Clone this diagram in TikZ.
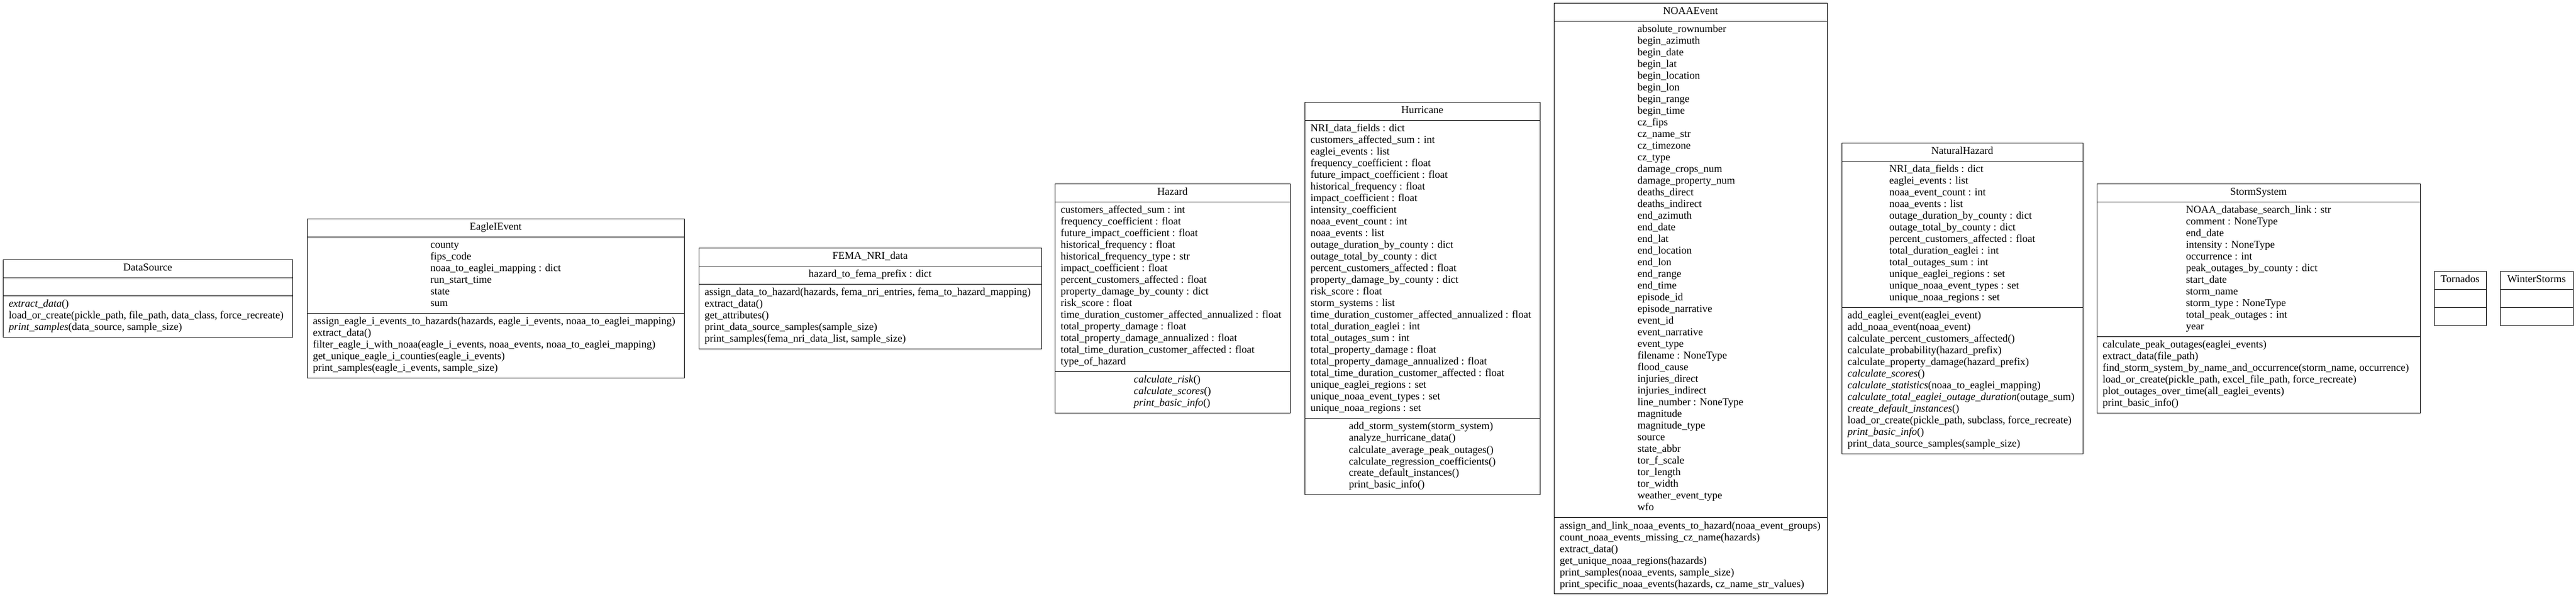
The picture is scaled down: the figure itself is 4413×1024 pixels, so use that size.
\documentclass[tikz,border=0pt]{standalone}
\usepackage{fontspec}
\setmainfont{Liberation Serif}
\usetikzlibrary{shapes.multipart}

\newcommand{\members}[1]{\begin{tabular}{@{}l@{}}#1\end{tabular}}

\tikzset{
  ClassStyle/.style={rectangle split, rectangle split parts=3,
    rectangle split part align={center,center,left},
    draw, line width=1pt, inner xsep=10pt, inner ysep=5pt,
    font=\fontsize{18}{20}\selectfont},
  WideAttrs/.style={rectangle split part align={center,left,center}}
}

\begin{document}
\begin{tikzpicture}[x=1pt,y=1pt]
  \useasboundingbox (0,-512) rectangle (4413,512);
  %% DataSource, EagleIEvent, FEMA_NRI_data, Hazard, Hurricane
  \node[ClassStyle, minimum width=496pt] (DataSource) at (253,0)
    {\strut DataSource
     \nodepart{two}\strut
     \nodepart{three}\members{\textit{extract\_data}()\\
       load\_or\_create(pickle\_path, file\_path, data\_class, force\_recreate)\\
       \textit{print\_samples}(data\_source, sample\_size)}};
  \node[ClassStyle, minimum width=646pt] (EagleIEvent) at (849,0)
    {\strut EagleIEvent
     \nodepart{two}\members{county\\ fips\_code\\ noaa\_to\_eaglei\_mapping : dict\\
       run\_start\_time\\ state\\ sum}
     \nodepart{three}\members{assign\_eagle\_i\_events\_to\_hazards(hazards, eagle\_i\_events, noaa\_to\_eaglei\_mapping)\\
       extract\_data()\\
       filter\_eagle\_i\_with\_noaa(eagle\_i\_events, noaa\_events, noaa\_to\_eaglei\_mapping)\\
       get\_unique\_eagle\_i\_counties(eagle\_i\_events)\\
       print\_samples(eagle\_i\_events, sample\_size)}};
  \node[ClassStyle, minimum width=587pt] (FEMA_NRI_data) at (1490.5,0)
    {\strut FEMA\_NRI\_data
     \nodepart{two}\members{hazard\_to\_fema\_prefix : dict}
     \nodepart{three}\members{assign\_data\_to\_hazard(hazards, fema\_nri\_entries, fema\_to\_hazard\_mapping)\\
       extract\_data()\\ get\_attributes()\\
       print\_data\_source\_samples(sample\_size)\\
       print\_samples(fema\_nri\_data\_list, sample\_size)}};
  \node[ClassStyle, WideAttrs, minimum width=403pt] (Hazard) at (2008.5,0)
    {\strut Hazard
     \nodepart{two}\members{customers\_affected\_sum : int\\ frequency\_coefficient : float\\
       future\_impact\_coefficient : float\\ historical\_frequency : float\\
       historical\_frequency\_type : str\\ impact\_coefficient : float\\
       percent\_customers\_affected : float\\ property\_damage\_by\_county : dict\\
       risk\_score : float\\ time\_duration\_customer\_affected\_annualized : float\\
       total\_property\_damage : float\\ total\_property\_damage\_annualized : float\\
       total\_time\_duration\_customer\_affected : float\\ type\_of\_hazard}
     \nodepart{three}\members{\textit{calculate\_risk}()\\ \textit{calculate\_scores}()\\
       \textit{print\_basic\_info}()}};
  \node[ClassStyle, WideAttrs, minimum width=403pt] (Hurricane) at (2436.5,0)
    {\strut Hurricane
     \nodepart{two}\members{NRI\_data\_fields : dict\\ customers\_affected\_sum : int\\
       eaglei\_events : list\\ frequency\_coefficient : float\\
       future\_impact\_coefficient : float\\ historical\_frequency : float\\
       impact\_coefficient : float\\ intensity\_coefficient\\
       noaa\_event\_count : int\\ noaa\_events : list\\
       outage\_duration\_by\_county : dict\\ outage\_total\_by\_county : dict\\
       percent\_customers\_affected : float\\ property\_damage\_by\_county : dict\\
       risk\_score : float\\ storm\_systems : list\\
       time\_duration\_customer\_affected\_annualized : float\\
       total\_duration\_eaglei : int\\ total\_outages\_sum : int\\
       total\_property\_damage : float\\ total\_property\_damage\_annualized : float\\
       total\_time\_duration\_customer\_affected : float\\ unique\_eaglei\_regions : set\\
       unique\_noaa\_event\_types : set\\ unique\_noaa\_regions : set}
     \nodepart{three}\members{add\_storm\_system(storm\_system)\\ analyze\_hurricane\_data()\\
       calculate\_average\_peak\_outages()\\ calculate\_regression\_coefficients()\\
       create\_default\_instances()\\ print\_basic\_info()}};
  %% NOAAEvent, NaturalHazard, StormSystem, Tornados, WinterStorms
  \node[ClassStyle, minimum width=468pt] (NOAAEvent) at (2896,0)
    {\strut NOAAEvent
     \nodepart{two}\members{absolute\_rownumber\\ begin\_azimuth\\ begin\_date\\ begin\_lat\\
       begin\_location\\ begin\_lon\\ begin\_range\\ begin\_time\\ cz\_fips\\ cz\_name\_str\\
       cz\_timezone\\ cz\_type\\ damage\_crops\_num\\ damage\_property\_num\\ deaths\_direct\\
       deaths\_indirect\\ end\_azimuth\\ end\_date\\ end\_lat\\ end\_location\\ end\_lon\\
       end\_range\\ end\_time\\ episode\_id\\ episode\_narrative\\ event\_id\\
       event\_narrative\\ event\_type\\ filename : NoneType\\ flood\_cause\\
       injuries\_direct\\ injuries\_indirect\\ line\_number : NoneType\\ magnitude\\
       magnitude\_type\\ source\\ state\_abbr\\ tor\_f\_scale\\ tor\_length\\ tor\_width\\
       weather\_event\_type\\ wfo}
     \nodepart{three}\members{assign\_and\_link\_noaa\_events\_to\_hazard(noaa\_event\_groups)\\
       count\_noaa\_events\_missing\_cz\_name(hazards)\\ extract\_data()\\
       get\_unique\_noaa\_regions(hazards)\\ print\_samples(noaa\_events, sample\_size)\\
       print\_specific\_noaa\_events(hazards, cz\_name\_str\_values)}};
  \node[ClassStyle, minimum width=413pt] (NaturalHazard) at (3361.5,0)
    {\strut NaturalHazard
     \nodepart{two}\members{NRI\_data\_fields : dict\\ eaglei\_events : list\\
       noaa\_event\_count : int\\ noaa\_events : list\\ outage\_duration\_by\_county : dict\\
       outage\_total\_by\_county : dict\\ percent\_customers\_affected : float\\
       total\_duration\_eaglei : int\\ total\_outages\_sum : int\\
       unique\_eaglei\_regions : set\\ unique\_noaa\_event\_types : set\\
       unique\_noaa\_regions : set}
     \nodepart{three}\members{add\_eaglei\_event(eaglei\_event)\\ add\_noaa\_event(noaa\_event)\\
       calculate\_percent\_customers\_affected()\\ calculate\_probability(hazard\_prefix)\\
       calculate\_property\_damage(hazard\_prefix)\\ \textit{calculate\_scores}()\\
       \textit{calculate\_statistics}(noaa\_to\_eaglei\_mapping)\\
       \textit{calculate\_total\_eaglei\_outage\_duration}(outage\_sum)\\
       \textit{create\_default\_instances}()\\
       load\_or\_create(pickle\_path, subclass, force\_recreate)\\
       \textit{print\_basic\_info}()\\ print\_data\_source\_samples(sample\_size)}};
  \node[ClassStyle, minimum width=554pt] (StormSystem) at (3869,0)
    {\strut StormSystem
     \nodepart{two}\members{NOAA\_database\_search\_link : str\\ comment : NoneType\\
       end\_date\\ intensity : NoneType\\ occurrence : int\\
       peak\_outages\_by\_county : dict\\ start\_date\\ storm\_name\\
       storm\_type : NoneType\\ total\_peak\_outages : int\\ year}
     \nodepart{three}\members{calculate\_peak\_outages(eaglei\_events)\\
       extract\_data(file\_path)\\
       find\_storm\_system\_by\_name\_and\_occurrence(storm\_name, occurrence)\\
       load\_or\_create(pickle\_path, excel\_file\_path, force\_recreate)\\
       plot\_outages\_over\_time(all\_eaglei\_events)\\ print\_basic\_info()}};
  \node[ClassStyle, minimum width=89pt] (Tornados) at (4214.5,0)
    {\strut Tornados \nodepart{two}\strut \nodepart{three}\strut};
  \node[ClassStyle, minimum width=125pt] (WinterStorms) at (4345.5,0)
    {\strut WinterStorms \nodepart{two}\strut \nodepart{three}\strut};
\end{tikzpicture}
\end{document}
